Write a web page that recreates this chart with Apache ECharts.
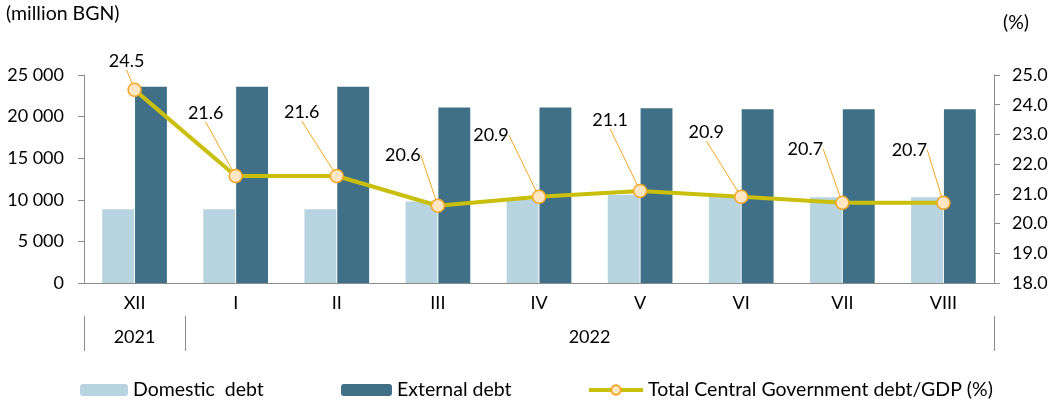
<!DOCTYPE html>
<html>
<head>
<meta charset="utf-8">
<script src="https://cdn.jsdelivr.net/npm/echarts@6/dist/echarts.min.js"></script>
<style>
html,body{margin:0;padding:0;background:#fff;}
#chart{width:1059px;height:401px;}
</style>
</head>
<body>
<div id="chart"></div>
<script>
// ---- data ----
const months = ['XII', 'I', 'II', 'III', 'IV', 'V', 'VI', 'VII', 'VIII'];
const years = ['2021', '2022'];
const domesticDebt = [8860, 8860, 8860, 9800, 10050, 10600, 10370, 10300, 10300];
const externalDebt = [23600, 23600, 23600, 21100, 21100, 21000, 20870, 20870, 20870];
const debtToGdp = [24.5, 21.6, 21.6, 20.6, 20.9, 21.1, 20.9, 20.7, 20.7];
const leftTicks = [0, 5000, 10000, 15000, 20000, 25000];
const rightTicks = [18, 19, 20, 21, 22, 23, 24, 25];

// ---- style (label placement offsets in px) ----
const labelDx = [-8, -30, -35, -35, -48, -30, -35, -37, -34];
const labelDy = [-29, -63, -64, -51, -62, -71, -65, -54, -53];

const FONT = 'Lato';
const num = {fontFamily: FONT, fontSize: 18, color: '#000'};
const txt = {fontFamily: FONT, fontSize: 19.5, color: '#000'};
const axisGray = '#8c8c8c';

const chart = echarts.init(document.getElementById('chart'));
chart.setOption({
  animation: false,
  textStyle: {fontFamily: FONT},
  title: [
    {text: '(million BGN)', left: 6, top: 4, padding: 0, textStyle: Object.assign({}, txt, {fontWeight: 'normal'})},
    {text: '(%)', left: 1003, top: 13, padding: 0, textStyle: Object.assign({}, txt, {fontWeight: 'normal'})}
  ],
  grid: {left: 84, right: 65, top: 75, bottom: 118, containLabel: false},
  legend: [
    {data: ['Domestic  debt'], left: 80, top: 380, padding: 0, itemWidth: 48, itemHeight: 12, itemGap: 8, textStyle: txt},
    {data: ['External debt'], left: 341, top: 380, padding: 0, itemWidth: 51, itemHeight: 12, textStyle: txt},
    {data: ['Total Central Government debt/GDP (%)'], left: 587, top: 380, padding: 0, itemWidth: 54, itemHeight: 12,
     lineStyle: {width: 4}, textStyle: txt}
  ],
  xAxis: [
    {
      type: 'category', data: months, position: 'bottom',
      axisLine: {lineStyle: {color: axisGray, width: 1}},
      axisTick: {length: 33, lineStyle: {color: axisGray}},
      axisLabel: Object.assign({margin: 11}, num)
    },
    {
      type: 'value', min: 0, max: months.length, position: 'bottom', offset: 33,
      axisLine: {show: false},
      splitLine: {show: false},
      axisTick: {show: true, customValues: [0, 1, months.length], length: 35, lineStyle: {color: axisGray}},
      axisLabel: Object.assign({
        margin: 12, customValues: [0.5, (1 + months.length) / 2],
        formatter: v => (v < 1 ? years[0] : years[1])
      }, num)
    }
  ],
  yAxis: [
    {
      type: 'value', min: leftTicks[0], max: leftTicks[leftTicks.length - 1], interval: 5000,
      axisLine: {show: true, lineStyle: {color: axisGray}},
      axisTick: {show: true, length: 6, lineStyle: {color: axisGray}},
      splitLine: {show: false},
      axisLabel: Object.assign({margin: 20, formatter: v => String(v).replace(/\B(?=(\d{3})+(?!\d))/g, ' ')}, num)
    },
    {
      type: 'value', position: 'right', min: rightTicks[0], max: rightTicks[rightTicks.length - 1], interval: 1,
      axisLine: {show: true, lineStyle: {color: axisGray}},
      axisTick: {show: true, length: 6, lineStyle: {color: axisGray}},
      splitLine: {show: false},
      axisLabel: Object.assign({margin: 18, formatter: v => v.toFixed(1)}, num)
    }
  ],
  series: [
    {
      name: 'Domestic  debt', type: 'bar', data: domesticDebt,
      itemStyle: {color: '#b8d4e0'}, barGap: '3%', barCategoryGap: '36%'
    },
    {
      name: 'External debt', type: 'bar', data: externalDebt,
      itemStyle: {color: '#3f7087'}, barGap: '3%', barCategoryGap: '36%'
    },
    {
      name: 'Total Central Government debt/GDP (%)', type: 'line', yAxisIndex: 1, data: debtToGdp,
      z: 5,
      lineStyle: {color: '#c9bf0c', width: 4},
      symbol: 'circle', symbolSize: 13,
      itemStyle: {color: '#fde6c4', borderColor: '#f5a623', borderWidth: 1.5},
      label: Object.assign({show: true, position: 'top', formatter: p => p.value.toFixed(1)}, num),
      labelLine: {show: true, lineStyle: {color: '#f5a623', width: 1}},
      labelLayout: function (p) {
        const i = p.dataIndex;
        const cx = p.rect.x + p.rect.width / 2;
        const cy = p.rect.y + p.rect.height / 2;
        return {x: cx + labelDx[i], y: cy + labelDy[i], align: 'center', verticalAlign: 'middle'};
      }
    }
  ]
});
</script>
</body>
</html>
